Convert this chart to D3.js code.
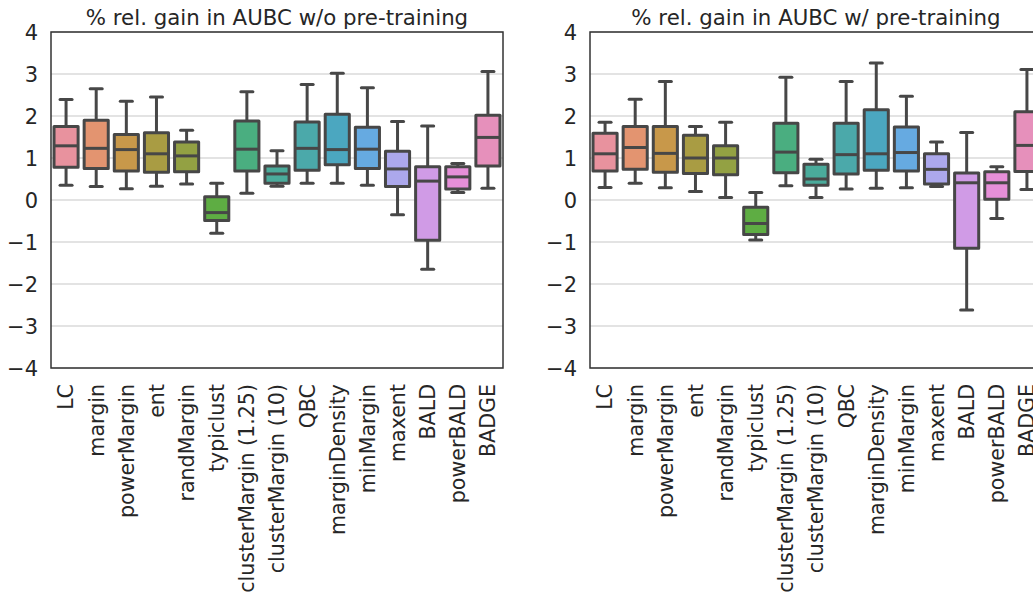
<!DOCTYPE html>
<html>
<head>
<meta charset="utf-8">
<script src="https://cdn.jsdelivr.net/npm/d3@7"></script>
<style>
  body { margin: 0; background: #fff; overflow: hidden; }
  text { font-family: "DejaVu Sans", sans-serif; fill: #262626; }
</style>
</head>
<body>
<script>
// categories and colours (seaborn husl-ish)
let methods = ["LC", "margin", "powerMargin", "ent", "randMargin", "typiclust",
  "clusterMargin (1.25)", "clusterMargin (10)", "QBC", "marginDensity", "minMargin",
  "maxent", "BALD", "powerBALD", "BADGE"];
let colors = ["#e8929e", "#e39470", "#c8984a", "#a99c43", "#93a143", "#5ead43",
  "#4aae80", "#4aab9b", "#4ba9aa", "#4ba7c0", "#66aae1", "#aca8ec", "#d09be6",
  "#e68fd8", "#e690bb"];
let yTicks = [-4, -3, -2, -1, 0, 1, 2, 3, 4];

// w/o pre-training: [low whisker, q1, median, q3, high whisker]
let noPretrain = [
  [0.35, 0.78, 1.29, 1.75, 2.39],
  [0.32, 0.75, 1.23, 1.90, 2.65],
  [0.27, 0.69, 1.20, 1.56, 2.35],
  [0.33, 0.66, 1.10, 1.60, 2.45],
  [0.38, 0.67, 1.05, 1.38, 1.66],
  [-0.79, -0.49, -0.30, 0.08, 0.40],
  [0.16, 0.69, 1.21, 1.88, 2.58],
  [0.33, 0.40, 0.62, 0.81, 1.17],
  [0.40, 0.71, 1.23, 1.86, 2.75],
  [0.40, 0.84, 1.20, 2.04, 3.02],
  [0.35, 0.75, 1.21, 1.73, 2.67],
  [-0.35, 0.32, 0.74, 1.16, 1.87],
  [-1.65, -0.96, 0.45, 0.79, 1.76],
  [0.18, 0.26, 0.55, 0.79, 0.87],
  [0.28, 0.81, 1.49, 2.02, 3.06]
];

// w/ pre-training
let withPretrain = [
  [0.30, 0.69, 1.10, 1.59, 1.85],
  [0.40, 0.73, 1.25, 1.75, 2.40],
  [0.29, 0.66, 1.11, 1.75, 2.82],
  [0.20, 0.63, 1.00, 1.54, 1.75],
  [0.06, 0.60, 1.00, 1.29, 1.85],
  [-0.95, -0.82, -0.56, -0.17, 0.18],
  [0.34, 0.65, 1.14, 1.83, 2.92],
  [0.06, 0.35, 0.50, 0.85, 0.97],
  [0.26, 0.62, 1.08, 1.83, 2.82],
  [0.28, 0.71, 1.10, 2.15, 3.26],
  [0.29, 0.69, 1.13, 1.74, 2.47],
  [0.32, 0.38, 0.73, 1.10, 1.38],
  [-2.62, -1.15, 0.41, 0.64, 1.61],
  [-0.44, 0.02, 0.41, 0.67, 0.79],
  [0.25, 0.68, 1.30, 2.10, 3.11]
];

let svg = d3.select("body").append("svg")
  .attr("width", 1033)
  .attr("height", 595);

let lineColor = "#474747";
let lw = 3;

function drawPanel(left, title, stats) {
  let width = 452;
  let xScale = d3.scaleBand()
    .domain(methods)
    .range([left, left + width]);
  let yScale = d3.scaleLinear()
    .domain([-4, 4])
    .range([368, 32]);

  let g = svg.append("g");

  // grid
  g.selectAll("line.grid")
    .data(yTicks)
    .enter()
    .append("line")
    .attr("x1", left).attr("x2", left + width)
    .attr("y1", d => yScale(d)).attr("y2", d => yScale(d))
    .attr("stroke", "#dadada")
    .attr("stroke-width", 1.6);

  // y axis labels
  g.selectAll("text.ytick")
    .data(yTicks)
    .enter()
    .append("text")
    .attr("x", left - 13)
    .attr("y", d => yScale(d))
    .attr("dy", "0.36em")
    .attr("text-anchor", "end")
    .style("font-size", "21px")
    .text(d => d3.format("d")(d).replace("-", "\u2212"));

  let bw = xScale.bandwidth() * 0.8;
  let boxes = g.selectAll("g.box")
    .data(stats)
    .enter()
    .append("g")
    .attr("transform", (d, i) => `translate(${xScale(methods[i]) + xScale.bandwidth() / 2},0)`);

  // whiskers
  boxes.append("line")
    .attr("y1", d => yScale(d[0])).attr("y2", d => yScale(d[1]))
    .attr("stroke", lineColor).attr("stroke-width", lw);
  boxes.append("line")
    .attr("y1", d => yScale(d[3])).attr("y2", d => yScale(d[4]))
    .attr("stroke", lineColor).attr("stroke-width", lw);
  // caps
  boxes.append("line")
    .attr("x1", -bw / 4).attr("x2", bw / 4)
    .attr("y1", d => yScale(d[0])).attr("y2", d => yScale(d[0]))
    .attr("stroke", lineColor).attr("stroke-width", lw)
    .attr("stroke-linecap", "round");
  boxes.append("line")
    .attr("x1", -bw / 4).attr("x2", bw / 4)
    .attr("y1", d => yScale(d[4])).attr("y2", d => yScale(d[4]))
    .attr("stroke", lineColor).attr("stroke-width", lw)
    .attr("stroke-linecap", "round");
  // box
  boxes.append("rect")
    .attr("x", -bw / 2)
    .attr("width", bw)
    .attr("y", d => yScale(d[3]))
    .attr("height", d => yScale(d[1]) - yScale(d[3]))
    .attr("fill", (d, i) => colors[i])
    .attr("stroke", lineColor).attr("stroke-width", lw)
    .attr("stroke-linejoin", "round");
  // median
  boxes.append("line")
    .attr("x1", -bw / 2).attr("x2", bw / 2)
    .attr("y1", d => yScale(d[2])).attr("y2", d => yScale(d[2]))
    .attr("stroke", lineColor).attr("stroke-width", lw);

  // frame
  g.append("rect")
    .attr("x", left).attr("y", 32)
    .attr("width", width).attr("height", 336)
    .attr("fill", "none")
    .attr("stroke", "#333")
    .attr("stroke-width", 1.5);

  // x labels
  g.selectAll("text.xtick")
    .data(methods)
    .enter()
    .append("text")
    .attr("transform", d => `translate(${xScale(d) + xScale.bandwidth() / 2},384) rotate(-90)`)
    .attr("dy", "0.36em")
    .attr("text-anchor", "end")
    .style("font-size", "20.6px")
    .text(d => d);

  // title
  g.append("text")
    .attr("x", left + width / 2)
    .attr("y", 25)
    .attr("text-anchor", "middle")
    .style("font-size", "21.3px")
    .text(title);
}

drawPanel(51, "% rel. gain in AUBC w/o pre-training", noPretrain);
drawPanel(590, "% rel. gain in AUBC w/ pre-training", withPretrain);
</script>
</body>
</html>
